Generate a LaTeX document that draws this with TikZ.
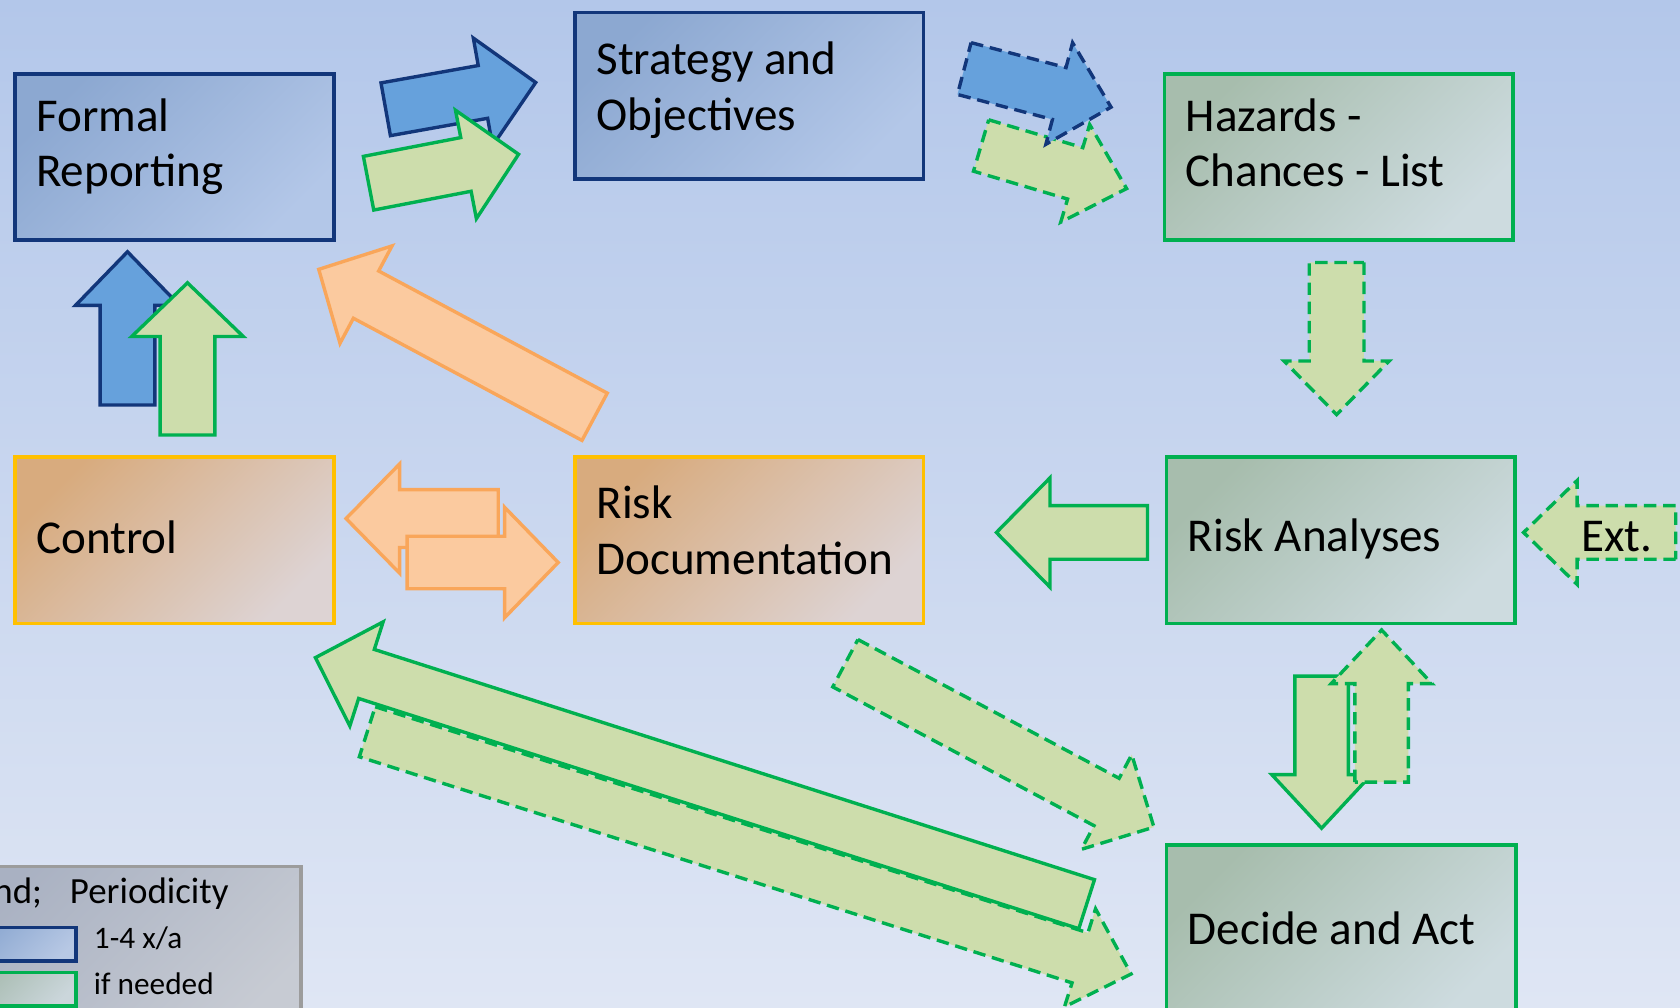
\documentclass[tikz,border=0pt]{standalone}
\usepackage{fontspec}
\setmainfont{Carlito}
\usepackage{tikz}
\usetikzlibrary{calc,positioning}
\definecolor{cNavy}{HTML}{12367A}
\definecolor{cBlue}{HTML}{66A1DC}
\definecolor{cGreen}{HTML}{00B050}
\definecolor{cLeaf}{HTML}{CDDDAC}
\definecolor{cGold}{HTML}{FFC000}
\definecolor{cOrange}{HTML}{F9A65A}
\definecolor{cPeach}{HTML}{FBCA9F}
\definecolor{cGray}{HTML}{9C9C9C}
\definecolor{bgTop}{HTML}{B3C7EA}
\definecolor{bgBot}{HTML}{DFE6F4}
\definecolor{blueA}{HTML}{8CA8D1}
\definecolor{blueB}{HTML}{B3C7E8}
\definecolor{greenA}{HTML}{A7BDAD}
\definecolor{greenB}{HTML}{CDDBDF}
\definecolor{tanA}{HTML}{D8AB7E}
\definecolor{tanB}{HTML}{DDD3D3}
\definecolor{grayA}{HTML}{A9B1C2}
\definecolor{grayB}{HTML}{C7CBD3}
\newcommand{\boxfont}{\fontsize{12.5}{14.8}\selectfont}
\newcommand{\legfont}{\fontsize{9.8}{11}\selectfont}
\newcommand{\keyfont}{\fontsize{8.3}{10}\selectfont}
\tikzset{
  box/.style={draw=#1,line width=1pt,anchor=north west,inner xsep=0.2cm,inner ysep=0pt,align=flush left,font=\boxfont},
  % top color resets the angle, so the angle comes last
  bluebox/.style={box=cNavy,top color=blueA,bottom color=blueB,shading angle=45},
  greenbox/.style={box=cGreen,top color=greenA,bottom color=greenB,shading angle=45},
  tanbox/.style={box=cGold,top color=tanA,bottom color=tanB,shading angle=45},
  legbox/.style={draw=cGray,line width=1pt,top color=grayA,bottom color=grayB,shading angle=45,inner sep=0pt},
  keybox/.style={draw=#1,line width=1pt,anchor=north east,minimum width=1cm,minimum height=0.31cm,inner sep=0pt},
  blk/.style={line width=0.9pt,line join=miter},
  navyarr/.style={blk,draw=cNavy,fill=cBlue},
  leafarr/.style={blk,draw=cGreen,fill=cLeaf},
  peacharr/.style={blk,draw=cOrange,fill=cPeach},
  opt/.style={dash pattern=on 3.3pt off 1.8pt},
}
% block arrow: [style]{tail}{tip}{half shaft width}{half head width}
\newcommand{\blockarrow}[5][]{%
  \coordinate (ba-t) at #2;
  \coordinate (ba-h) at #3;
  \coordinate (ba-b) at ($(ba-h)!5mm!(ba-t)$);
  \draw[#1] ($(ba-t)!#4!90:(ba-h)$) -- ($(ba-b)!#4!90:(ba-h)$) -- ($(ba-b)!#5!90:(ba-h)$) -- (ba-h)
    -- ($(ba-b)!#5!-90:(ba-h)$) -- ($(ba-b)!#4!-90:(ba-h)$) -- ($(ba-t)!#4!-90:(ba-h)$) -- cycle;
}

\begin{document}
\begin{tikzpicture}[x=0.01cm,y=-0.01cm]
  \useasboundingbox (0,0) rectangle (1568,940);
  \clip (0,0) rectangle (1568,940);
  \shade[top color=bgTop,bottom color=bgBot] (0,0) rectangle (1568,940);

  % boxes
  \node[bluebox,text width=2.58cm,text height=0.535cm,text depth=1.015cm] (formal) at (12,67) {Formal\\Reporting};
  \node[bluebox,text width=2.85cm,text height=0.58cm,text depth=0.97cm] (strategy) at (535,10) {Strategy and\\Objectives};
  \node[greenbox,text width=2.85cm,text height=0.535cm,text depth=1.015cm] (hazards) at (1085,67) {Hazards -\\Chances - List};
  \node[tanbox,text width=2.58cm,text height=0.9cm,text depth=0.65cm] (control) at (12,425) {Control};
  \node[tanbox,text width=2.85cm,text height=0.57cm,text depth=0.98cm] (riskdoc) at (535,425) {Risk\\Documentation};
  \node[greenbox,text width=2.85cm,text height=0.88cm,text depth=0.67cm] (riskan) at (1087,425) {Risk Analyses};
  \node[greenbox,text width=2.86cm,text height=0.93cm,text depth=0.7cm] (decide) at (1087,787) {Decide and Act};

  % arrows, back to front
  \blockarrow[peacharr]{(555,389)}{(297.5,251.4)}{2.5mm}{5.15mm}
  \blockarrow[navyarr]{(119,378)}{(119,235)}{2.55mm}{4.85mm}
  \blockarrow[leafarr]{(175,406)}{(175,264)}{2.55mm}{5.2mm}
  \blockarrow[navyarr]{(360,102)}{(500,77)}{2.5mm}{5.1mm}
  \blockarrow[leafarr]{(344,171)}{(484,144)}{2.55mm}{5.15mm}
  \blockarrow[leafarr,opt]{(915.7,135.8)}{(1051.5,176)}{2.5mm}{4.75mm}
  \blockarrow[navyarr,opt]{(900,64)}{(1037,100)}{2.5mm}{4.9mm}
  \blockarrow[leafarr,opt]{(1247.5,245)}{(1247.5,387)}{2.55mm}{4.9mm}
  \blockarrow[peacharr]{(465,484)}{(323,484)}{2.7mm}{5.1mm}
  \blockarrow[peacharr]{(380,525)}{(521,525)}{2.45mm}{5.15mm}
  \blockarrow[leafarr]{(1071,497)}{(930,497)}{2.5mm}{5.1mm}
  \blockarrow[leafarr,opt]{(1564,497)}{(1422,497)}{2.5mm}{4.85mm}
  \node[font=\boxfont,anchor=base west,inner sep=0pt] (ext) at (1475,515) {Ext.};
  \blockarrow[leafarr]{(1233.5,631)}{(1233.5,773)}{2.5mm}{4.65mm}
  \blockarrow[leafarr,opt]{(1289.5,730)}{(1289.5,588)}{2.5mm}{4.7mm}
  \blockarrow[leafarr,opt]{(789,619)}{(1077,772)}{2.5mm}{5mm}
  \blockarrow[leafarr,opt]{(342.8,683)}{(1055.7,909.1)}{2.45mm}{4.8mm}
  \blockarrow[leafarr]{(1014.2,843.9)}{(294.4,613.8)}{2.4mm}{5.1mm}

  % legend
  \node[legbox,anchor=north east,minimum width=3.3cm,minimum height=1.6cm] (legend) at (283,807) {};
  \node[font=\legfont,anchor=base east,inner sep=0pt] (legtitle) at (214,843) {Legend;\hspace{0.26cm}Periodicity};
  \node[keybox=cNavy,top color=blueA,bottom color=blueB!80!grayB,shading angle=45] (keyblue) at (72.5,864) {};
  \node[keybox=cGreen,top color=greenA!85!grayA,bottom color=greenB!70!grayB,shading angle=45] (keygreen) at (72.5,906) {};
  \node[font=\keyfont,anchor=base west,inner sep=0pt] (keybluetxt) at (87,885) {1-4 x/a};
  \node[font=\keyfont,anchor=base west,inner sep=0pt] (keygreentxt) at (87,928) {if needed};
\end{tikzpicture}
\end{document}
